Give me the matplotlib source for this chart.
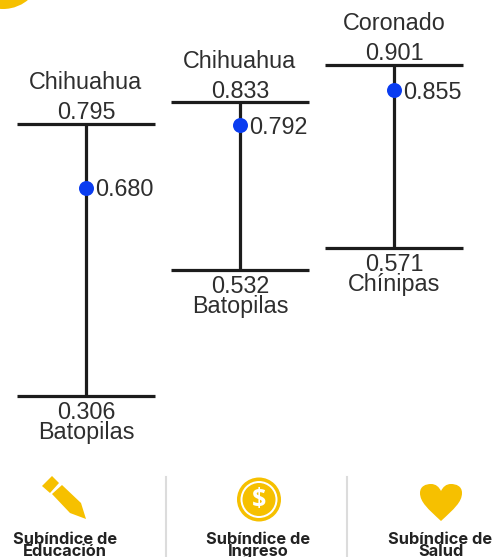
import matplotlib
matplotlib.use('Agg')
import matplotlib.pyplot as plt
from matplotlib.patches import Circle, Polygon, PathPatch
from matplotlib.path import Path

# Values per subindex
subindices = ['Subíndice de\nEducación', 'Subíndice de\nIngreso', 'Subíndice de\nSalud']
max_values = [0.795, 0.833, 0.901]
mean_values = [0.680, 0.792, 0.855]
min_values = [0.306, 0.532, 0.571]
max_names = ['Chihuahua', 'Chihuahua', 'Coronado']
min_names = ['Batopilas', 'Batopilas', 'Chínipas']

YELLOW = '#F6C000'
DARK = '#1c1c1c'
TEXT = '#2e2e2e'
BLUE = '#0A3CF0'

fig = plt.figure(figsize=(5.04, 5.57), dpi=100)

# Data axes cover the whole picture, categories sit at 0, 1, 2
ax = fig.add_axes([0, 0, 1, 1])
ax.set_xlim(-86 / 154, (504 - 86) / 154)
ax.set_ylim(0.0168, 1.0168)
ax.axis('off')

for i in range(3):
    ax.plot([i, i], [min_values[i], max_values[i]], color=DARK, lw=2.3, solid_capstyle='butt')
    ax.plot([i - 0.45, i + 0.45], [max_values[i]] * 2, color=DARK, lw=2.3, solid_capstyle='butt')
    ax.plot([i - 0.45, i + 0.45], [min_values[i]] * 2, color=DARK, lw=2.3, solid_capstyle='butt')
    ax.plot(i, mean_values[i], 'o', color=BLUE, ms=10.8, mec='none', zorder=3)

    ax.annotate(f'{max_values[i]:.3f}', (i, max_values[i]), xytext=(0, -0.5), textcoords='offset points',
                ha='center', va='bottom', fontsize=16.8, color=TEXT, family='Liberation Sans')
    ax.annotate(max_names[i], (i, max_values[i]), xytext=(0, 21.5), textcoords='offset points',
                ha='center', va='bottom', fontsize=16.8, color=TEXT, family='Liberation Sans')
    ax.annotate(f'{mean_values[i]:.3f}', (i, mean_values[i]), xytext=(6.5, -1.5), textcoords='offset points',
                ha='left', va='center', fontsize=16.8, color=TEXT, family='Liberation Sans')
    ax.annotate(f'{min_values[i]:.3f}', (i, min_values[i]), xytext=(0, -3.5), textcoords='offset points',
                ha='center', va='top', fontsize=16.8, color=TEXT, family='Liberation Sans')
    ax.annotate(min_names[i], (i, min_values[i]), xytext=(0, -18), textcoords='offset points',
                ha='center', va='top', fontsize=16.8, color=TEXT, family='Liberation Sans')

# Footer drawn in pixel coordinates
px = fig.add_axes([0, 0, 1, 1])
px.set_xlim(0, 504)
px.set_ylim(557, 0)
px.axis('off')
px.patch.set_alpha(0)

px.add_patch(Circle((3, -30), 39, color=YELLOW, lw=0))

for x in [166, 347]:
    px.plot([x, x], [477, 557], color='#dcdcdc', lw=1.5)

# pencil
px.add_patch(Polygon([(42, 486), (52, 476), (59, 483), (50, 493)], color=YELLOW, lw=0))
px.add_patch(Polygon([(52, 494), (62, 485), (81, 503), (86, 519), (70, 513)], color=YELLOW, lw=0))

# coin
px.add_patch(Circle((259, 499.5), 22, color=YELLOW, lw=0))
px.add_patch(Circle((259, 499.5), 18.5, color='white', lw=0))
px.add_patch(Circle((259, 499.5), 16.5, color=YELLOW, lw=0))
px.text(259, 500, '$', ha='center', va='center', fontsize=18, fontweight='bold', color='white',
        family='Open Sans')

# heart
heart = Path([(441, 521), (428, 509), (420, 502), (420, 493), (420, 486), (426, 484), (431, 484),
              (436, 484), (439, 487), (441, 491), (443, 487), (446, 484), (451, 484),
              (456, 484), (462, 486), (462, 493), (462, 502), (454, 509), (441, 521)],
             [Path.MOVETO] + [Path.CURVE4] * 18)
px.add_patch(PathPatch(heart, color=YELLOW, lw=0))

for x, label in zip([65, 258.5, 440.5], subindices):
    px.text(x, 545.5, label, ha='center', va='center', fontsize=11.8, fontweight='bold', color='#222222',
            family='Inter', linespacing=0.82)

fig.savefig('out.png', dpi=100)
